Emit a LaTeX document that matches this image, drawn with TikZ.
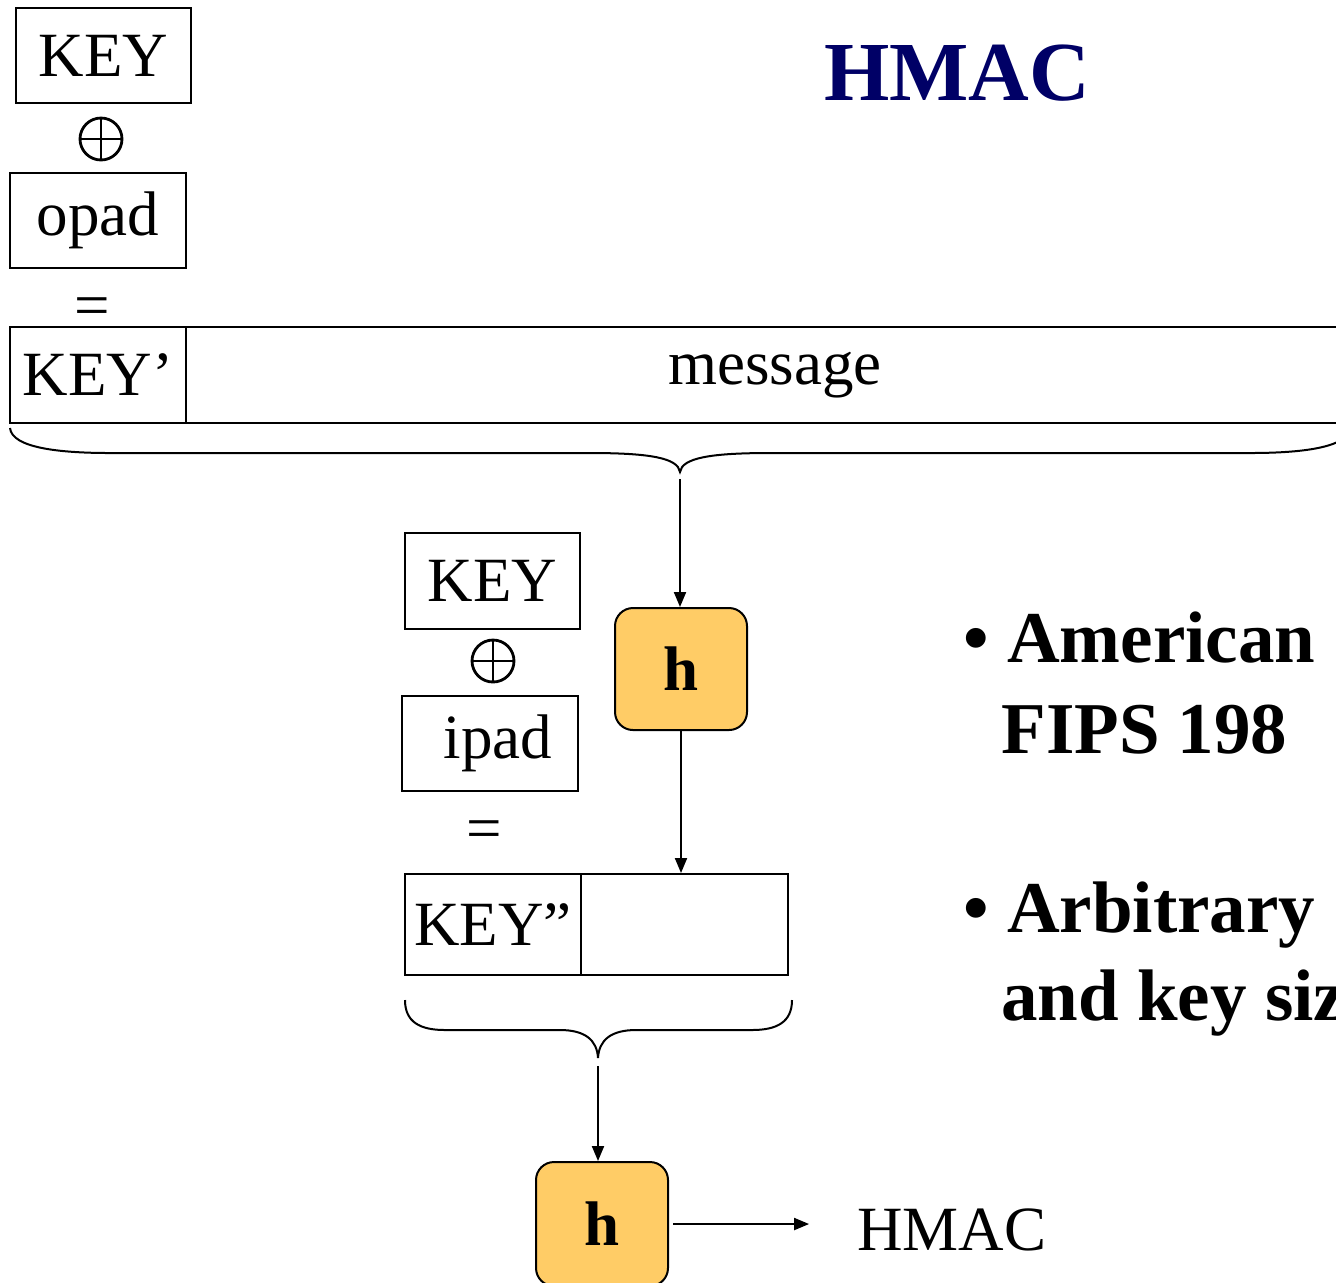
\documentclass[tikz,border=0pt]{standalone}
\usepackage{fontspec}
\setmainfont{Liberation Serif}
\usetikzlibrary{arrows.meta}
\definecolor{hashfill}{RGB}{255,204,102}
\definecolor{titleblue}{RGB}{0,0,102}
\newcommand{\bigtxt}{\fontsize{31.5}{36}\selectfont}
\newcommand{\pointtxt}{\fontsize{36.5}{42}\selectfont\bfseries}
\begin{document}
\begin{tikzpicture}[x=0.5pt,y=-0.5pt,
  field/.style={draw, line width=1pt, inner sep=0pt, font=\bigtxt},
  hashbox/.style={draw, line width=1pt, fill=hashfill, rounded corners=9pt,
    minimum width=66pt, minimum height=61pt, inner sep=0pt, font=\bigtxt\bfseries},
  sym/.style={inner sep=0pt, font=\bigtxt},
  xorsym/.style={circle, draw, line width=1.4pt, minimum size=21pt, inner sep=0pt,
    path picture={\draw[line width=1.4pt] (path picture bounding box.north) -- (path picture bounding box.south)
      (path picture bounding box.west) -- (path picture bounding box.east);}},
  point/.style={anchor=base west, inner sep=0pt, font=\pointtxt},
  flow/.style={line width=1pt, -{Triangle[length=7.5pt,width=6pt]}},
  brace/.style={line width=1pt}]
\useasboundingbox (0,0) rectangle (1336,1282);
\clip (0,0) rectangle (1336,1282);
% title
\node[anchor=base, inner sep=0pt, text=titleblue, font=\fontsize{42}{48}\selectfont\bfseries] (title) at (957,100) {HMAC};
% outer key
\node[field, minimum width=87.5pt, minimum height=47.5pt] (okey) at (103.5,55.5) {KEY};
\node[xorsym] (oxor) at (101,139) {};
\node[field, minimum width=88pt, minimum height=47.5pt] (opad) at (98,220.5) {opad};
\node[sym] (oeq) at (92,312) {=};
\node[field, minimum width=88pt, minimum height=48pt] (okeyp) at (98,375) {KEY’};
\node[field, minimum width=589pt, minimum height=48pt] (msg) at (775,375) {message};
\draw[brace] (10,428) .. controls (12,448) and (60,453) .. (110,453) -- (590,453)
  .. controls (650,453) and (678,458) .. (680,472) coordinate (tip1)
  .. controls (682,458) and (710,453) .. (770,453) -- (1250,453)
  .. controls (1300,453) and (1348,448) .. (1350,428);
% inner hash
\node[hashbox] (h1) at (681,669) {h};
\node[field, minimum width=87.5pt, minimum height=48pt] (ikey) at (492.5,581) {KEY};
\node[xorsym] (ixor) at (493,661) {};
\node[field, minimum width=88pt, minimum height=47.5pt] (ipad) at (490,743.5) {\hspace{8pt}ipad};
\node[sym] (ieq) at (484,835) {=};
\node[field, minimum width=88pt, minimum height=50.5pt] (ikeyp) at (493,924.5) {KEY”};
\node[field, minimum width=103.5pt, minimum height=50.5pt] (inner) at (684.5,924.5) {};
\draw[flow, shorten <=3.5pt] (tip1) -- (tip1 |- h1.north);
\draw[flow] (h1.south) -- (h1.south |- inner.north);
\draw[brace] (405,1000) .. controls (405,1022) and (420,1030) .. (445,1030) -- (560,1030)
  .. controls (585,1030) and (597,1040) .. (598,1058) coordinate (tip2)
  .. controls (599,1040) and (611,1030) .. (636,1030) -- (752,1030)
  .. controls (777,1030) and (792,1022) .. (792,1000);
% outer hash
\node[hashbox, minimum height=62pt] (h2) at (602,1224) {h};
\node[anchor=base, inner sep=0pt, font=\bigtxt] (hmac) at (952,1250) {HMAC};
\draw[flow, shorten <=4pt] (tip2) -- (tip2 |- h2.north);
\draw[flow, shorten <=2pt, shorten >=24pt] (h2.east) -- (h2.east -| hmac.west);
% bullets
\node[point] (amer) at (963,662) {• American};
\node[point] (fips) at (1001,753) {FIPS 198};
\node[point] (arb) at (963,932) {• Arbitrary};
\node[point] (size) at (1001,1020) {and key size};
\end{tikzpicture}
\end{document}
